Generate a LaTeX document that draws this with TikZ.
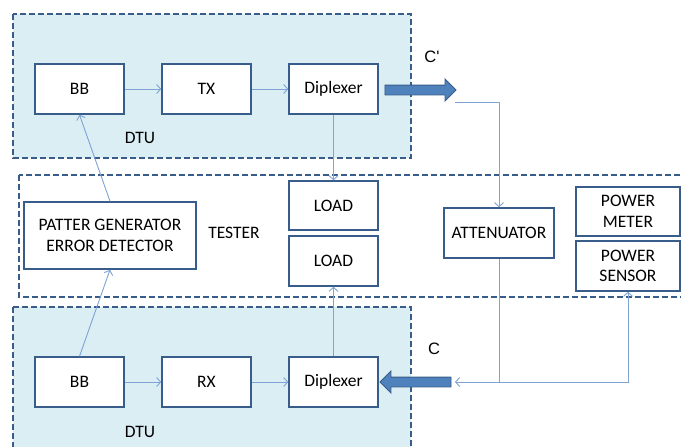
\documentclass[tikz,border=0pt]{standalone}
\usepackage{fontspec}
\setmainfont{Carlito}
\newfontfamily\labelfont{Liberation Sans}
\usepackage{xcolor}
\definecolor{dtuborder}{RGB}{56,93,138}
\definecolor{dtufill}{RGB}{219,238,244}
\definecolor{linkblue}{RGB}{126,163,212}
\definecolor{arrowfill}{RGB}{79,129,189}
\usetikzlibrary{arrows.meta,positioning,shapes.arrows,calc}
\tikzset{
  unitframe/.style={draw=dtuborder, line width=1.8pt, dash pattern=on 6pt off 3pt, fill=#1},
  blk/.style={draw=dtuborder, line width=1.5pt, fill=white, font=\fontsize{17.5}{20.5}\selectfont,
              minimum width=#1, minimum height=50pt, inner sep=1pt, align=center},
  link/.style={draw=linkblue, line width=0.9pt, -{Straight Barb[length=4pt, width=9pt]}},
  wire/.style={draw=linkblue, line width=0.9pt},
  fatarrow/.style={single arrow, draw=dtuborder, fill=arrowfill, line width=0.8pt,
                   minimum width=21pt, minimum height=71pt, single arrow head extend=6pt,
                   inner sep=4.5pt, shape border rotate=#1},
  lbl/.style={font=\fontsize{17.5}{20.5}\selectfont},
  clbl/.style={font=\labelfont\fontsize{16.5}{19}\selectfont},
}

\begin{document}
\begin{tikzpicture}[x=1pt, y=-1pt]
\clip (0,0) rectangle (681,447);
\useasboundingbox (0,0) rectangle (681,447);

% Frames: upper DTU, tester, lower DTU
\draw[unitframe=dtufill] (13,14) rectangle (411,158);
\draw[unitframe=white] (19,175) rectangle (700,297);
\draw[unitframe=dtufill] (13,307) rectangle (411,470);

% Upper DTU
\node[blk=89pt] (bbT) at (79.5,89) {BB};
\node[blk=89pt] (tx) at (206.5,89) {TX};
\node[blk=89pt] (dipT) at (333.5,89) {Diplexer};
\node[lbl] (dtuT) at (140,138) {DTU};

% Tester
\node[blk=172pt, minimum height=67pt] (pged) at (110,235.5) {PATTER GENERATOR\\ERROR DETECTOR};
\node[lbl] (tester) at (234,233) {TESTER};
\node[blk=89pt, minimum height=49pt] (loadA) at (333.5,205.5) {LOAD};
\node[blk=89pt] (loadB) at (333.5,261) {LOAD};
\node[blk=110pt] (atten) at (499,233) {ATTENUATOR};
\node[blk=104pt, minimum height=49pt] (pmeter) at (628,211.5) {POWER\\METER};
\node[blk=104pt] (psensor) at (628,266) {POWER\\SENSOR};

% Lower DTU
\node[blk=89pt] (bbB) at (79.5,382) {BB};
\node[blk=89pt] (rx) at (206.5,382) {RX};
\node[blk=89pt] (dipB) at (333.5,382) {Diplexer};
\node[lbl] (dtuB) at (140,432) {DTU};

% Thick RF arrows and their labels
\node[fatarrow=0] (outArr) at (418,90) {};
\node[fatarrow=180] (inArr) at (418,382) {};
\node[clbl] (cOut) at (432,57) {C'};
\node[clbl] (cIn) at (434,349) {C};

% Signal paths
\draw[link] (bbT) -- (tx);
\draw[link] (tx) -- (dipT);
\draw[link] (bbB) -- (rx);
\draw[link] (rx) -- (dipB);
\draw[link] (dipT) -- (loadA);
\draw[link] (dipB) -- (loadB);
\draw[link] (pged.north -| 110,0) -- (bbT.south);
\draw[link] (bbB.north) -- (pged.south -| 110,0);

% Loop through the attenuator
\coordinate (loopTop) at (455,102);
\coordinate (loopEnd) at (455,382);
\coordinate (loopJoin) at (499,382);
\draw[link] (loopTop) -| (atten.north);
\draw[link] (atten.south) -- (loopJoin) -- (loopEnd);
\draw[link] (loopJoin) -| (psensor.south);
\end{tikzpicture}
\end{document}
